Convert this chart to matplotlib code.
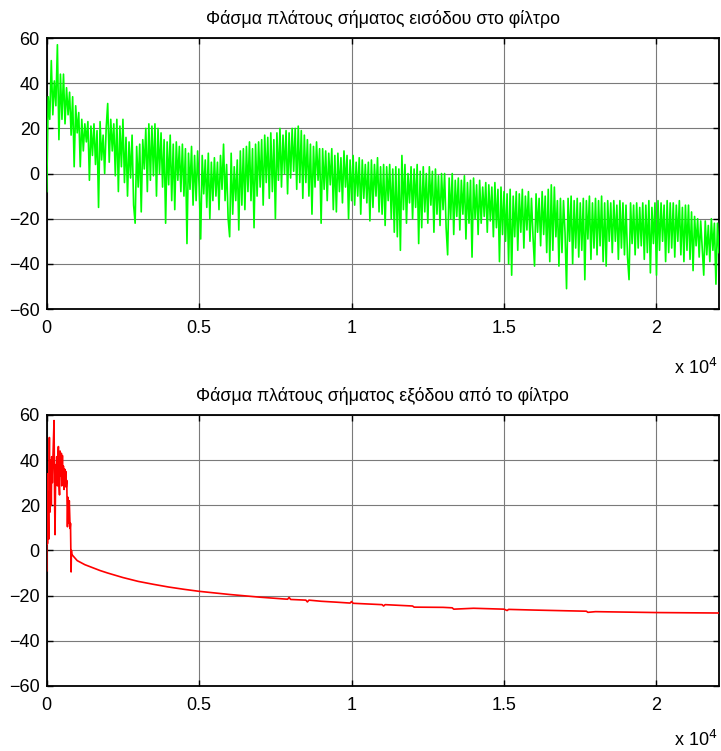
import numpy as np
import matplotlib
matplotlib.use("Agg")
import matplotlib.pyplot as plt

plt.rcParams['font.family'] = ['Liberation Sans', 'DejaVu Sans']

# ---------------- data ----------------
title_in = "Φάσμα πλάτους σήματος εισόδου στο φίλτρο"
title_out = "Φάσμα πλάτους σήματος εξόδου από το φίλτρο"

x_ticks = [0, 5000, 10000, 15000, 20000]
x_tick_labels = ["0", "0.5", "1", "1.5", "2"]
y_ticks = [-60, -40, -20, 0, 20, 40, 60]
x_max = 22050

# input spectrum (dB), one value every 50 Hz from 0 to 22050 Hz
in_step = 50
in_db = [
    -8, 34, 24, 50, 26, 41, 30, 57, 15, 44,
    24, 44, 22, 38, 26, 36, 17, 34, 3, 30,
    18, 27, 3, 24, 10, 22, 14, 23, -3, 21,
    8, 22, 4, 19, -15, 23, 6, 17, 0, 20,
    31, 5, 24, 10, 22, -1, 24, -8, 21, 3,
    24, -4, 16, -10, 14, -2, 17, -14, -22, 12,
    -6, 13, -17, 15, 2, 20, -8, 22, -3, 21,
    -1, 22, -10, 20, 0, 18, -6, 15, -22, 14,
    -5, 17, -12, 13, -16, 14, -3, 12, -8, 13,
    -10, 11, -31, 9, -7, 12, -14, 8, -12, 10,
    -6, -29, 8, -9, 6, -15, 9, -20, 5, -12,
    7, -10, 5, -16, 8, -7, 13, -12, 4, -20,
    -28, 9, -18, 3, -12, 6, -25, 10, -14, 11,
    -16, 12, -8, 14, -12, 11, -24, 13, -10, 14,
    -6, 15, -14, 17, -4, 16, -11, 18, -8, 15,
    -20, 18, -3, 20, -6, 17, 0, 19, -9, 18,
    -2, 20, 1, 20, -7, 21, -4, 19, -11, 17,
    -4, 15, -10, 13, -18, 12, -6, 14, -3, 11,
    -22, 11, -7, 10, -12, 9, -5, 11, -16, 8,
    -17, 9, -8, 7, -13, 10, -6, 8, -20, 6,
    -12, 8, -14, 5, -10, 7, -18, 6, -11, 4,
    -13, 5, -21, 6, -15, 4, -10, 7, -17, 3,
    -18, 4, -23, 3, -12, 4, -20, 2, -26, 3,
    -28, 2, -34, 8, -16, 4, -22, 0, -13, 3,
    -20, 2, -15, 4, -31, 1, -24, 3, -17, 0,
    -22, 3, -14, 1, -26, 2, -18, -1, -23, 0,
    -16, 0, -24, -36, -2, -20, 0, -27, -3, -19,
    -2, -25, -3, -18, -1, -29, -4, -22, -3, -37,
    -2, -20, -5, -27, -3, -22, -6, -19, -4, -26,
    -5, -21, -6, -28, -4, -24, -7, -39, -6, -27,
    -8, -30, -9, -40, -7, -45, -10, -28, -8, -34,
    -9, -26, -7, -33, -10, -25, -8, -30, -11, -28,
    -41, -9, -26, -11, -32, -8, -27, -10, -35, -7,
    -39, -5, -34, -6, -28, -12, -41, -11, -35, -12,
    -26, -51, -11, -30, -10, -40, -12, -33, -11, -37,
    -13, -34, -11, -47, -12, -29, -10, -38, -13, -33,
    -11, -36, -12, -32, -10, -39, -13, -41, -12, -30,
    -13, -35, -12, -30, -14, -38, -12, -33, -13, -36,
    -14, -37, -47, -13, -31, -14, -36, -13, -33, -15,
    -32, -13, -38, -14, -35, -12, -44, -15, -31, -13,
    -45, -12, -34, -13, -30, -14, -39, -12, -35, -13,
    -33, -13, -37, -14, -30, -12, -36, -15, -39, -14,
    -34, -14, -38, -17, -43, -19, -32, -20, -37, -21,
    -33, -45, -21, -36, -23, -39, -20, -34, -22, -49,
    -22, -35,
]

# output spectrum (dB): noisy pass band then smooth decay
out_freq = [
    0, 8, 25, 45, 65, 87, 100, 109, 130, 150, 164, 185, 210, 240, 260,
    273, 295, 315, 328, 350, 365, 383, 400, 420, 438, 460, 480, 493, 515,
    530, 547, 570, 590, 602, 625, 640, 657, 680, 700, 712, 740, 767, 780,
    800, 810, 821,
    850, 1000, 1250, 1500, 1750, 2000, 2250, 2500, 3000, 3500, 4000, 4500,
    5000, 5500, 6000, 6500, 7000, 7500, 7900, 7950, 8000, 8500, 8550, 8600,
    9000, 9500, 9950, 10000, 10050, 11000, 11050, 11100, 12000, 12050,
    13000, 13300, 13350, 14000, 15000, 15100, 15150, 16000, 17000, 17700,
    17750, 18000, 19000, 20000, 21000, 22050,
]
out_db = [
    -9, 34, 3, 26, 5, 50, 22, 17, 40, 20, 41.5, 30, 44, 57.5, 20,
    7, 38, 29, 41.5, 28.6, 40, 46, 30, 24.6, 44, 33, 43, 28.6, 42,
    31, 37.4, 27, 36, 30, 35, 28, 31, 10.5, 23.5, 12, 22, 9.7, 12,
    -9.5, 0, -1.7,
    -2.2, -4.5, -6.3, -7.6, -8.9, -10.0, -11.0, -12.0, -13.7, -15.0, -16.2, -17.2,
    -18.1, -18.8, -19.5, -20.1, -20.7, -21.2, -21.6, -20.8, -21.7, -22.0, -22.8, -22.0,
    -22.5, -22.9, -23.3, -22.6, -23.4, -24.0, -24.6, -24.0, -24.6, -25.1,
    -25.2, -25.4, -26.0, -25.6, -26.0, -26.6, -26.1, -26.4, -26.7, -26.9,
    -27.4, -27.1, -27.3, -27.5, -27.6, -27.7,
]

# ---------------- drawing ----------------
in_freq = np.arange(len(in_db)) * in_step

fig = plt.figure(figsize=(7.21, 7.51), dpi=100)
ax1 = fig.add_axes([0.0648, 0.5885, 0.9324, 0.3609])
ax2 = fig.add_axes([0.0648, 0.0866, 0.9324, 0.3609])

series = [(ax1, in_freq, in_db, '#00ff00', title_in, 1.2, -0.255),
          (ax2, out_freq, out_db, '#ff0000', title_out, 1.2, -0.235)]

for ax, fx, fy, col, ttl, lw, ypos in series:
    ax.plot(fx, fy, color=col, lw=lw, zorder=3)
    ax.set_xlim(0, x_max)
    ax.set_ylim(-60, 60)
    ax.set_xticks(x_ticks)
    ax.set_xticklabels(x_tick_labels)
    ax.set_yticks(y_ticks)
    ax.grid(True, color='#7a7a7a', lw=0.8, zorder=1)
    ax.tick_params(direction='in', length=4, width=1, top=True, right=True,
                   labelsize=13, colors='black')
    ax.tick_params(axis='x', pad=8)
    ax.tick_params(axis='y', pad=5)
    for s in ax.spines.values():
        s.set_color('black')
        s.set_linewidth(1.3)
    ax.set_title(ttl, fontsize=12.8, pad=10)
    ax.text(0.998, ypos, r'x 10$^{4}$', transform=ax.transAxes, ha='right',
            va='bottom', fontsize=13)

fig.savefig('out.png', dpi=100, facecolor='white')
